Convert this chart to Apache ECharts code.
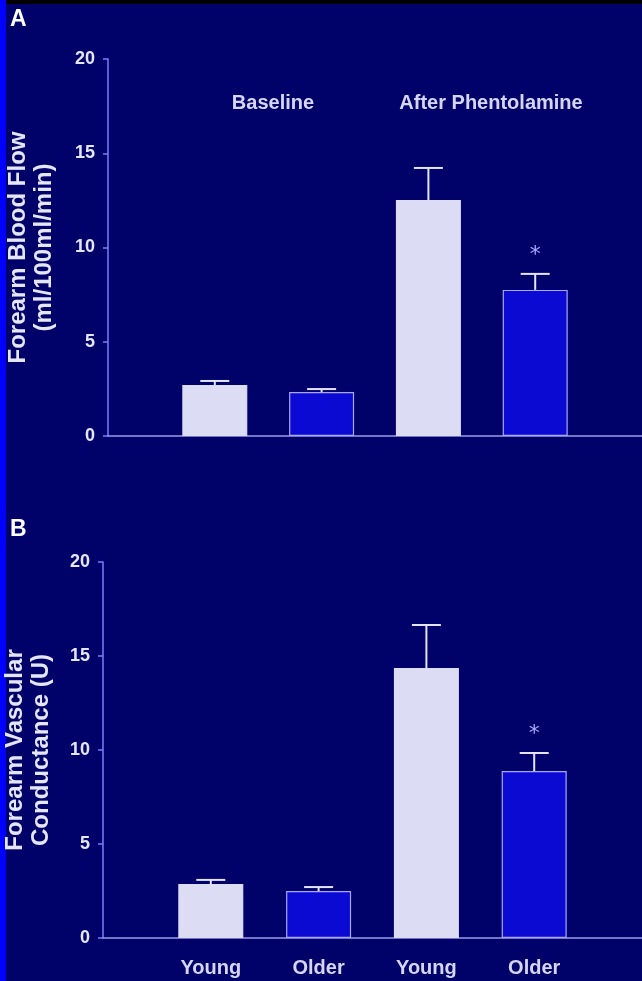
<!DOCTYPE html>
<html><head><meta charset="utf-8">
<style>html,body{margin:0;padding:0;background:#01016a;}#c{width:642px;height:981px;}</style>
<script src="https://cdn.jsdelivr.net/npm/echarts@6/dist/echarts.min.js"></script>
</head><body><div id="c"></div>
<script>
const categories = ['', 'Young', 'Older', 'Young', 'Older', ''];
const groupLabels = ['Baseline', 'After Phentolamine'];
const yTicks = [0, 5, 10, 15, 20];
// Panel A: Forearm blood flow (ml/100ml/min)
const flowMean = ['-', 2.7, 2.33, 12.52, 7.75, '-'];
const flowErrTop = ['-', 2.92, 2.49, 14.22, 8.6, '-'];
// Panel B: Forearm vascular conductance (U)
const condMean = ['-', 2.87, 2.5, 14.36, 8.88, '-'];
const condErrTop = ['-', 3.09, 2.71, 16.65, 9.84, '-'];
const sigIndex = [4]; // asterisk over Older after phentolamine

const YOUNG = '#dcdcf4', OLDER = '#0a0ad2', LIGHT = '#e4e4f8';
const chart = echarts.init(document.getElementById('c'));

function barData(vals){
  return vals.map((v,i)=> v==='-' ? '-' : {value:v, itemStyle:{color: categories[i]==='Young'?YOUNG:OLDER, borderColor: categories[i]==='Young'?YOUNG:'#a8a8ff', borderWidth:1.2}});
}
function errData(mean, top){
  const out=[];
  mean.forEach((m,i)=>{ if(m!=='-') out.push([i, m, top[i]]); });
  return out;
}
function errRender(params, api){
  const i=api.value(0);
  const p0=api.coord([i, api.value(1)]);
  const p1=api.coord([i, api.value(2)]);
  const hw=14.5;
  return {type:'group', children:[
    {type:'line', shape:{x1:p0[0],y1:p0[1],x2:p1[0],y2:p1[1]}, style:{stroke:LIGHT,lineWidth:2}},
    {type:'line', shape:{x1:p1[0]-hw,y1:p1[1],x2:p1[0]+hw,y2:p1[1]}, style:{stroke:LIGHT,lineWidth:2}}
  ]};
}
function starData(top){ return sigIndex.map(i=>[i, top[i]]); }
function starRender(params, api){
  const p=api.coord([api.value(0), api.value(1)]);
  return {type:'text', x:p[0], y:p[1]-19, style:{text:'*', fill:'#a8a8ff', font:'22px "DejaVu Sans"', align:'center', verticalAlign:'middle'}};
}
function yAx(gi, name, gap){
  return {gridIndex:gi, type:'value', min:0, max:20, interval:5,
    name:name, nameLocation:'middle', nameRotate:90, nameGap:gap,
    nameTextStyle:{color:'#e6e6fa', fontSize:24, fontWeight:'bold', fontFamily:'Liberation Sans', lineHeight:26},
    axisLine:{show:true, lineStyle:{color:'#7c7cff', width:1.5}},
    axisTick:{show:true, length:5, lineStyle:{color:'#7c7cff', width:1.5}},
    axisLabel:{color:'#e6e6fa', fontSize:18, fontWeight:'bold', fontFamily:'Liberation Sans', margin:13},
    splitLine:{show:false}};
}
function xAx(gi, showLabels){
  return {gridIndex:gi, type:'category', data:categories, boundaryGap:false,
    axisLine:{show:true, lineStyle:{color:'#9c9ce6', width:1.5}},
    axisTick:{show:false},
    axisLabel:{show:showLabels, interval:0, color:'#d6d6f4', fontSize:20, fontWeight:'bold', fontFamily:'Liberation Sans', margin:20}};
}
chart.setOption({
  backgroundColor:'#01016a',
  animation:false,
  grid:[{left:108, top:59, right:0, height:377, outerBoundsMode:'none', containLabel:false},
        {left:103, top:562, right:0, height:376, outerBoundsMode:'none', containLabel:false}],
  xAxis:[xAx(0,false), xAx(1,true)],
  yAxis:[yAx(0,'Forearm Blood Flow\n(ml/100ml/min)',51), yAx(1,'Forearm Vascular\nConductance (U)',49)],
  series:[
    {type:'bar', xAxisIndex:0, yAxisIndex:0, barWidth:65, data:barData(flowMean)},
    {type:'custom', xAxisIndex:0, yAxisIndex:0, renderItem:errRender, data:errData(flowMean, flowErrTop), z:3},
    {type:'custom', xAxisIndex:0, yAxisIndex:0, renderItem:starRender, data:starData(flowErrTop)},
    {type:'bar', xAxisIndex:1, yAxisIndex:1, barWidth:65, data:barData(condMean)},
    {type:'custom', xAxisIndex:1, yAxisIndex:1, renderItem:errRender, data:errData(condMean, condErrTop), z:3},
    {type:'custom', xAxisIndex:1, yAxisIndex:1, renderItem:starRender, data:starData(condErrTop)}
  ],
  graphic:[
    {type:'rect', left:0, top:0, shape:{width:642, height:4}, style:{fill:'#000000'}},
    {type:'rect', left:0, top:0, shape:{width:6, height:981}, style:{fill:'#0000ff'}},
    {type:'text', left:10, top:8, style:{text:'A', fill:'#ffffff', font:'bold 23px "Liberation Sans"'}},
    {type:'text', left:10, top:518, style:{text:'B', fill:'#ffffff', font:'bold 23px "Liberation Sans"'}},
    {type:'text', x:273, y:103, style:{text:groupLabels[0], fill:'#d6d6f4', font:'bold 20px "Liberation Sans"', align:'center', verticalAlign:'middle'}},
    {type:'text', x:491, y:103, style:{text:groupLabels[1], fill:'#d6d6f4', font:'bold 20px "Liberation Sans"', align:'center', verticalAlign:'middle'}}
  ]
});
</script></body></html>
